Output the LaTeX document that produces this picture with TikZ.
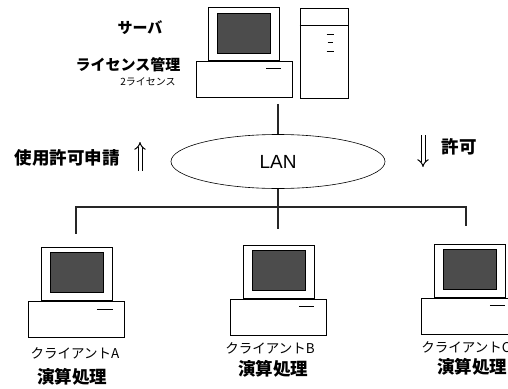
\documentclass[tikz,border=0pt]{standalone}
\usepackage{fontspec}
\setmainfont{Noto Sans CJK JP}
\newfontfamily\latinfont{Liberation Sans}
\usepackage{tikz}
\usetikzlibrary{arrows.meta,calc,positioning,shapes.geometric}
\definecolor{screengray}{gray}{0.3}

\tikzset{
  box/.style={draw, line width=0.8pt, fill=white, inner sep=0pt},
  pcbase/.style={box, minimum width=96pt, minimum height=36pt},
  pcmonitor/.style={box, minimum width=71pt, minimum height=53pt},
  pcscreen/.style={draw, line width=0.5pt, fill=screengray, inner sep=0pt,
    minimum width=53pt, minimum height=40pt},
  bus/.style={line width=2.6pt, black!85, line join=miter},
  okarrow/.style={double, double distance=3pt, line width=1pt, -{Implies[length=5pt]}},
  jpbold/.style={inner sep=0pt, font=\fontsize{15}{15}\selectfont\bfseries},
  jpbig/.style={inner sep=0pt, font=\fontsize{17.5}{17.5}\selectfont\bfseries},
  jpthin/.style={inner sep=0pt, font=\fontsize{13.5}{13.5}\selectfont},
}

\begin{document}
\begin{tikzpicture}[x=1pt, y=-1pt]
  \useasboundingbox (0,0) rectangle (508,388);

  % Server: desktop unit and tower
  \node[pcbase] (srvbase) at (244,79.5) {};
  \node[pcmonitor, above=0pt of srvbase] (srvmon) {};
  \node[pcscreen] (srvscr) at ([yshift=1pt]srvmon.center) {};
  \draw[line width=0.6pt] ([shift={(-26pt,-7pt)}]srvbase.north east) -- ([shift={(-11pt,-7pt)}]srvbase.north east);
  \node[box, minimum width=48pt, minimum height=90pt] (tower) at (324,53) {};
  \draw[line width=0.8pt] ([yshift=-18pt]tower.north west) -- ([yshift=-18pt]tower.north east);
  \draw[line width=0.6pt] ([shift={(27pt,-27pt)}]tower.north west) -- ([shift={(34pt,-27pt)}]tower.north west);
  \draw[line width=0.6pt] ([shift={(28pt,-35pt)}]tower.north west) -- ([shift={(33pt,-35pt)}]tower.north west);
  \draw[line width=0.6pt] ([shift={(27pt,-44pt)}]tower.north west) -- ([shift={(34pt,-44pt)}]tower.north west);

  % Server labels
  \node[jpbold] (srvtitle) at (140,28) {サーバ};
  \node[jpbold] (licmgr) at (128,65) {ライセンス管理};
  \node[inner sep=0pt, font=\fontsize{10}{10}\selectfont] (licnum) at (148,82) {2ライセンス};

  % LAN
  \node[draw, ellipse, line width=0.6pt, inner sep=0pt, minimum width=214pt, minimum height=54pt,
    font=\latinfont\fontsize{19}{19}\selectfont] (lan) at (278,161.5) {LAN};

  % Request and permission arrows
  \node[jpbig] (reqtxt) at (67,158) {使用許可申請};
  \coordinate (reqlow) at (140,171);
  \coordinate (reqhigh) at (140,142);
  \draw[okarrow] (reqlow) -- (reqhigh);
  \node[jpbig] (permtxt) at (459,147) {許可};
  \coordinate (permhigh) at (423,135);
  \coordinate (permlow) at (423,167);
  \draw[okarrow] (permhigh) -- (permlow);

  % Client A
  \node[pcbase] (baseA) at (76.5,319) {};
  \node[pcmonitor, above=0pt of baseA] (monA) {};
  \node[pcscreen] (scrA) at ([yshift=1pt]monA.center) {};
  \draw[line width=0.6pt] ([shift={(-28pt,-9pt)}]baseA.north east) -- ([shift={(-12pt,-9pt)}]baseA.north east);
  \node[jpthin] (nameA) at (75,353) {クライアントA};
  \node[jpbig] (jobA) at (72,377) {演算処理};

  % Client B
  \node[pcbase] (baseB) at (278.5,317) {};
  \node[pcmonitor, above=0pt of baseB] (monB) {};
  \node[pcscreen] (scrB) at ([yshift=1pt]monB.center) {};
  \draw[line width=0.6pt] ([shift={(-28pt,-8pt)}]baseB.north east) -- ([shift={(-13pt,-8pt)}]baseB.north east);
  \node[jpthin] (nameB) at (270,348) {クライアントB};
  \node[jpbig] (jobB) at (273,369) {演算処理};

  % Client C
  \node[pcbase] (baseC) at (469.5,316) {};
  \node[pcmonitor, above=0pt of baseC] (monC) {};
  \node[pcscreen] (scrC) at ([yshift=1pt]monC.center) {};
  \draw[line width=0.6pt] ([shift={(-28pt,-8pt)}]baseC.north east) -- ([shift={(-13pt,-8pt)}]baseC.north east);
  \node[jpthin] (nameC) at (466,347) {クライアントC};
  \node[jpbig] (jobC) at (472,367) {演算処理};

  % Network cabling
  \coordinate (busL) at (76,207);
  \coordinate (busR) at (466,207);
  \draw[bus, shorten <=6pt] (lan.north |- srvbase.south) -- (lan.north);
  \draw[bus] (lan.south) -- (lan.south |- busL);
  \draw[bus, shorten <=13pt, shorten >=18pt] (busL |- monA.north) -- (busL) -- (busR) -- (busR |- monC.north);
  \draw[bus, shorten >=16pt] (lan.south |- busL) -- (lan.south |- monB.north);
\end{tikzpicture}
\end{document}
